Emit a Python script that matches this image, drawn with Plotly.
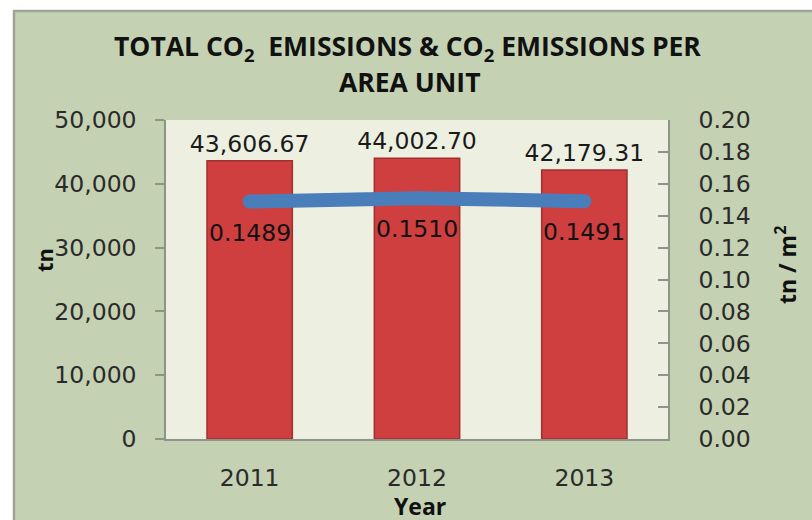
import plotly.graph_objects as go

years = ["2011", "2012", "2013"]
total_tn = [43606.67, 44002.70, 42179.31]
per_area = [0.1489, 0.1510, 0.1491]
total_labels = ["43,606.67", "44,002.70", "42,179.31"]
per_area_labels = ["0.1489", "0.1510", "0.1491"]

W, H = 812, 520
L, R, T, B = 166, 668, 120, 439  # plot area pixel edges


def px(x):
    return (x - L) / (R - L)


def py(y):
    return (B - y) / (B - T)


num_family = "DejaVu Sans, Verdana, sans-serif"
num_font = dict(family=num_family, size=23.5, color="#2a2a2a")
title_family = "Open Sans, Lato, sans-serif"

fig = go.Figure()
fig.add_trace(go.Bar(
    x=years, y=total_tn, text=total_labels, textposition="outside",
    constraintext="none",
    textfont=dict(family=num_family, size=23.5, color="#1a1a1a"),
    marker=dict(color="#cf3f3f", line=dict(color="#a02f2f", width=1.5)),
    cliponaxis=False, yaxis="y", name="tn",
))
fig.add_trace(go.Scatter(
    x=years, y=per_area, mode="lines+markers",
    line=dict(color="#4a7ebb", width=14),
    marker=dict(color="#4a7ebb", size=14, line=dict(width=0)),
    yaxis="y2", name="tn/m2", cliponaxis=False,
))

shapes = [
    dict(type="rect", xref="paper", yref="paper", x0=px(-5), x1=px(13), y0=py(530), y1=py(-5),
         fillcolor="white", line=dict(width=0), layer="above"),
    dict(type="rect", xref="paper", yref="paper", x0=px(-5), x1=px(820), y0=py(10), y1=py(-5),
         fillcolor="white", line=dict(width=0), layer="above"),
    dict(type="line", xref="paper", yref="paper", x0=px(14), x1=px(14), y0=py(530), y1=py(10),
         line=dict(color="#9ea596", width=2.5)),
    dict(type="line", xref="paper", yref="paper", x0=px(14), x1=px(820), y0=py(11), y1=py(11),
         line=dict(color="#9ea596", width=2.5)),
]

title_font = dict(family=title_family, size=26.5, color="#111111")
annotations = [
    dict(text="<b>TOTAL CO<sub>2</sub>  EMISSIONS & CO<sub>2</sub> EMISSIONS PER</b>",
         x=px(407), y=py(47), xref="paper", yref="paper", showarrow=False,
         font=title_font, xanchor="center", yanchor="middle"),
    dict(text="<b>AREA UNIT</b>",
         x=px(409), y=py(82), xref="paper", yref="paper", showarrow=False,
         font=title_font, xanchor="center", yanchor="middle"),
    dict(text="<b>tn</b>", x=px(44), y=py(260), xref="paper", yref="paper", showarrow=False,
         textangle=-90, font=dict(family=title_family, size=22, color="#111111"),
         xanchor="center", yanchor="middle"),
    dict(text="<b>tn / m<sup>2</sup></b>", x=px(786), y=py(265), xref="paper", yref="paper",
         showarrow=False, textangle=-90,
         font=dict(family=title_family, size=23, color="#111111"),
         xanchor="center", yanchor="middle"),
    dict(text="<b>Year</b>", x=px(420), y=py(506), xref="paper", yref="paper", showarrow=False,
         font=dict(family=title_family, size=23, color="#111111"),
         xanchor="center", yanchor="middle"),
]
for i, (v, lab) in enumerate(zip(per_area, per_area_labels)):
    annotations.append(dict(
        text=lab, x=i, y=v, xref="x", yref="y2", yshift=-31, showarrow=False,
        font=dict(family=num_family, size=23.5, color="#111111"),
        xanchor="center", yanchor="middle",
    ))

fig.update_layout(
    width=W, height=H,
    margin=dict(l=L, r=W - R, t=T, b=H - B, pad=0, autoexpand=False),
    paper_bgcolor="#c4d1b2", plot_bgcolor="#edf0e1",
    showlegend=False, bargap=0.49,
    shapes=shapes, annotations=annotations,
    xaxis=dict(type="category", range=[-0.5, len(years) - 0.5], showgrid=False, ticks="",
               showline=True, linecolor="#8f9488",
               linewidth=1.5, tickfont=num_font, ticklabelstandoff=17, zeroline=False,
               automargin=False),
    yaxis=dict(range=[0, 50000], dtick=10000, tickformat=",", showgrid=False, zeroline=False,
               showline=True, linecolor="#8f9488", linewidth=1.5, ticks="outside", ticklen=9,
               tickcolor="#8f9488", tickwidth=1.5, tickfont=num_font, ticklabelstandoff=14,
               automargin=False),
    yaxis2=dict(range=[0, 0.2], dtick=0.02, tickformat=".2f", overlaying="y", side="right",
                showgrid=False, zeroline=False, showline=True, linecolor="#8f9488", linewidth=1.5,
                ticks="inside", ticklen=10, tickcolor="#8f9488", tickwidth=1.5,
                tickfont=num_font, ticklabelstandoff=24, automargin=False),
)

fig.write_html(
    "out.html",
    config={"displayModeBar": False},
    post_script="document.body.style.margin='0';document.body.style.overflow='hidden';",
)
